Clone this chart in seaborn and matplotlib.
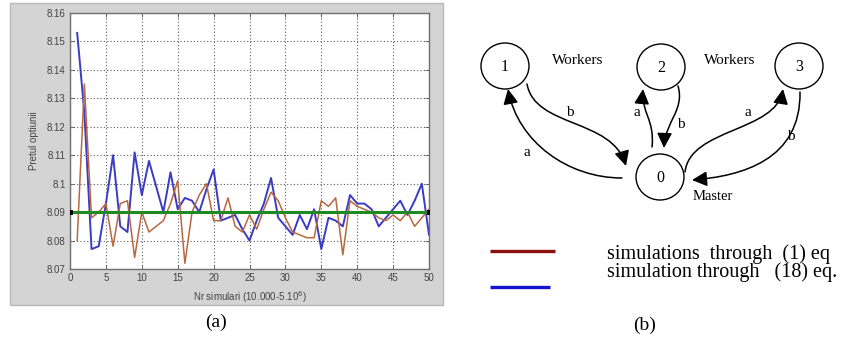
import matplotlib
matplotlib.use("Agg")
import matplotlib.pyplot as plt
import seaborn as sns
import pandas as pd
from matplotlib.patches import Ellipse, Rectangle, FancyArrowPatch
from matplotlib.path import Path
from matplotlib.ticker import FuncFormatter

# ---------------- data ----------------
sim_index = list(range(1, 51))
price_eq1 = [8.080, 8.135, 8.088, 8.090, 8.093, 8.078, 8.093, 8.094, 8.074, 8.090,
             8.083, 8.085, 8.087, 8.093, 8.101, 8.072, 8.090, 8.096, 8.100, 8.087,
             8.087, 8.095, 8.085, 8.083, 8.089, 8.084, 8.091, 8.097, 8.094, 8.088,
             8.083, 8.082, 8.081, 8.081, 8.094, 8.092, 8.095, 8.075, 8.094, 8.092,
             8.091, 8.090, 8.088, 8.087, 8.089, 8.087, 8.090, 8.085, 8.088, 8.091]
price_eq18 = [8.153, 8.125, 8.077, 8.078, 8.093, 8.110, 8.085, 8.083, 8.111, 8.096,
              8.108, 8.099, 8.090, 8.104, 8.091, 8.095, 8.094, 8.090, 8.098, 8.105,
              8.087, 8.088, 8.089, 8.084, 8.080, 8.087, 8.093, 8.102, 8.088, 8.085,
              8.082, 8.089, 8.084, 8.091, 8.077, 8.088, 8.087, 8.085, 8.096, 8.093,
              8.093, 8.091, 8.085, 8.088, 8.091, 8.094, 8.089, 8.094, 8.100, 8.082]
reference_x = [0, 50]
reference_price = [8.09, 8.09]
x_ticks = [0, 5, 10, 15, 20, 25, 30, 35, 40, 45, 50]
y_ticks = [8.07, 8.08, 8.09, 8.10, 8.11, 8.12, 8.13, 8.14, 8.15, 8.16]

node_labels = ["1", "2", "3", "0"]
edge_labels = ["b", "a", "a", "b", "a", "b"]
legend_texts = ["simulations  through  (1) eq", "simulation through   (18) eq."]

# ---------------- figure ----------------
W, H = 860, 341
fig = plt.figure(figsize=(W / 100, H / 100), dpi=100)
fig.patch.set_facecolor("white")

bg = fig.add_axes([0, 0, 1, 1], zorder=0)
bg.set_xlim(0, W)
bg.set_ylim(H, 0)
bg.axis("off")
bg.add_patch(Rectangle((10, 3), 433, 302, facecolor="#d4d4d4", edgecolor="#b8b8b8", lw=1))

# main chart axes (pixel box: left 70, right 429, top 13, bottom 269)
ax = fig.add_axes([70 / W, 1 - 269 / H, 359 / W, 256 / H], zorder=1)
ax.set_facecolor("white")

df1 = pd.DataFrame({"x": sim_index, "y": price_eq1})
df18 = pd.DataFrame({"x": sim_index, "y": price_eq18})
dfr = pd.DataFrame({"x": reference_x, "y": reference_price})

sns.lineplot(data=df1, x="x", y="y", ax=ax, color="#b8683e", lw=1.1, zorder=3)
sns.lineplot(data=df18, x="x", y="y", ax=ax, color="#3b3bc4", lw=1.4, zorder=2)
sns.lineplot(data=dfr, x="x", y="y", ax=ax, color="#1f8a1f", lw=2.2, zorder=4,
             marker="s", markersize=3.5, markerfacecolor="black", markeredgecolor="black")

ax.set_xlim(0, 50)
ax.set_ylim(8.07, 8.16)
ax.set_xticks(x_ticks)
ax.set_yticks(y_ticks)
ax.yaxis.set_major_formatter(FuncFormatter(lambda v, p: "%g" % round(v, 2)))
ax.grid(True, color="#5a5a5a", linestyle=(0, (1, 2)), lw=0.8)
ax.set_axisbelow(True)
ax.tick_params(direction="in", length=3, width=0.6, colors="#555555", labelsize=7,
               top=True, right=True, pad=3)
for lab in ax.get_xticklabels() + ax.get_yticklabels():
    lab.set_color("#444444")
    lab.set_family("Liberation Sans")
for s in ax.spines.values():
    s.set_color("#707070")
    s.set_linewidth(1.0)
ax.set_xlabel("Nr simulari (10.000-5.10$^6$)", fontsize=7, color="#444444",
              family="Liberation Sans", labelpad=4)
ax.set_ylabel("Pretul optiunii", fontsize=7, color="#444444",
              family="Liberation Sans", labelpad=6)

# ---------------- captions ----------------
serif = "Liberation Serif"
bg.text(216, 322, "(a)", fontsize=14, family=serif, ha="center", va="center")
bg.text(645, 325, "(b)", fontsize=14, family=serif, ha="center", va="center")

# ---------------- diagram ----------------
centers = [(505, 66), (661, 67), (799, 66), (660, 177)]
for (cx, cy), lab in zip(centers, node_labels):
    bg.add_patch(Ellipse((cx, cy), 48, 46, facecolor="white", edgecolor="black", lw=1.0))
    bg.text(cx, cy + 1, lab, fontsize=11.5, family=serif, ha="center", va="center")

bg.text(578, 60, "Workers", fontsize=11, family=serif, ha="center", va="center")
bg.text(730, 60, "Workers", fontsize=11, family=serif, ha="center", va="center")
bg.text(713, 197, "Master", fontsize=10.5, family=serif, ha="center", va="center")

curves = [
    [(527, 84), (535, 128), (612, 118), (626, 166)],   # 1 -> 0  b
    [(622, 178), (568, 178), (518, 142), (508, 89)],   # 0 -> 1  a
    [(652, 147), (655, 120), (641, 112), (643, 89)],   # 0 -> 2  a
    [(678, 86), (685, 110), (665, 122), (664, 148)],   # 2 -> 0  b
    [(685, 172), (690, 128), (776, 132), (783, 89)],   # 0 -> 3  a
    [(800, 92), (801, 160), (742, 176), (692, 180)],   # 3 -> 0  b
]
label_pos = [(570, 113), (527, 152), (637, 113), (681, 124), (748, 113), (791, 137)]
codes = [Path.MOVETO, Path.CURVE4, Path.CURVE4, Path.CURVE4]
for pts, lab, (lx, ly) in zip(curves, edge_labels, label_pos):
    arr = FancyArrowPatch(path=Path(pts, codes),
                          arrowstyle="-|>,head_length=0.7,head_width=0.35",
                          mutation_scale=13, lw=1.1, color="black",
                          shrinkA=0, shrinkB=0)
    bg.add_patch(arr)
    bg.text(lx, ly, lab, fontsize=11, family=serif, ha="center", va="center")

# legend
bg.plot([490, 555], [251, 251], color="#8b1010", lw=2.4, solid_capstyle="butt")
bg.plot([490, 550], [287, 287], color="#1515d0", lw=2.4, solid_capstyle="butt")
bg.text(607, 259, legend_texts[0], fontsize=14.5, family=serif, ha="left", va="baseline")
bg.text(607, 277, legend_texts[1], fontsize=14.5, family=serif, ha="left", va="baseline")

fig.savefig("out.png", dpi=100)
